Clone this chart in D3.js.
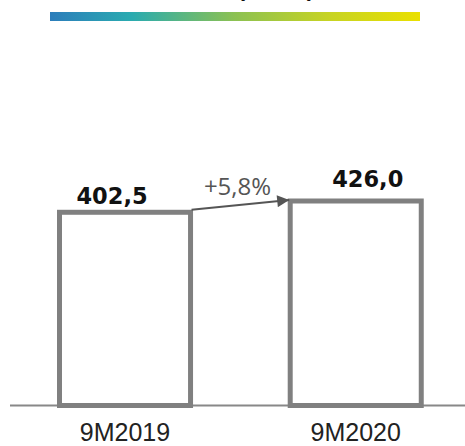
<!DOCTYPE html>
<html><head><meta charset="utf-8">
<script src="https://cdn.jsdelivr.net/npm/d3@7"></script>
<style>html,body{margin:0;padding:0;background:#fff;}</style>
</head><body>
<svg id="chart" width="465" height="446"></svg>
<script>
const categories = ["9M2019", "9M2020"];
const values = [402.5, 426.0];
const valueLabels = ["402,5", "426,0"];
const changeLabel = "+5,8%";
const titleText = "(€ mn)";

const svg = d3.select("#chart");
const defs = svg.append("defs");

// Gradient decoration
const grad = defs.append("linearGradient").attr("id", "hdr").attr("x1", "0%").attr("x2", "100%");
[["0%", "#2c7dbb"], ["22%", "#2aabb0"], ["50%", "#8cc152"], ["75%", "#c6d324"], ["100%", "#eae000"]]
  .forEach(([o, c]) => grad.append("stop").attr("offset", o).attr("stop-color", c));

svg.append("text").attr("x", 237).attr("y", -2)
  .attr("font-family", "DejaVu Sans").attr("font-weight", "bold").attr("font-size", 21)
  .attr("fill", "#111").text(titleText);

svg.append("rect").attr("x", 50).attr("y", 12).attr("width", 370).attr("height", 9)
  .attr("fill", "url(#hdr)");

const x = d3.scaleBand().domain(categories).range([59.5, 421.25]).paddingInner(0.432).paddingOuter(0);
const y = d3.scaleLinear().domain([0, 426]).range([405.5, 201]);

// Baseline
svg.append("line").attr("x1", 10).attr("x2", 465).attr("y1", y(0)).attr("y2", y(0))
  .attr("stroke", "#888").attr("stroke-width", 2);

// Bars
svg.selectAll("rect.bar").data(values).join("rect").attr("class", "bar")
  .attr("x", (d, i) => x(categories[i]))
  .attr("y", d => y(d))
  .attr("width", x.bandwidth())
  .attr("height", d => y(0) - y(d))
  .attr("fill", "#fff").attr("stroke", "#808080").attr("stroke-width", 5);

// Value labels
const labelDx = [-13, 12], labelDy = [-8.5, -14];
svg.selectAll("text.val").data(values).join("text").attr("class", "val")
  .attr("x", (d, i) => x(categories[i]) + x.bandwidth() / 2 + labelDx[i])
  .attr("y", (d, i) => y(d) + labelDy[i])
  .attr("text-anchor", "middle")
  .attr("font-family", "DejaVu Sans").attr("font-weight", "bold").attr("font-size", 22.5)
  .attr("fill", "#111").text((d, i) => valueLabels[i]);

// Arrow
defs.append("marker").attr("id", "arr").attr("viewBox", "0 0 10 10").attr("refX", 10).attr("refY", 5)
  .attr("markerWidth", 14).attr("markerHeight", 12).attr("markerUnits", "userSpaceOnUse")
  .attr("orient", "auto")
  .append("path").attr("d", "M0,0L10,5L0,10Z").attr("fill", "#555");

const ax1 = x(categories[0]) + x.bandwidth() + 1, ay1 = y(values[0]) - 2.5;
const ax2 = x(categories[1]) - 1, ay2 = y(values[1]) - 1;
svg.append("line").attr("x1", ax1).attr("y1", ay1).attr("x2", ax2).attr("y2", ay2)
  .attr("stroke", "#555").attr("stroke-width", 2).attr("marker-end", "url(#arr)");

svg.append("text").attr("x", 237.5).attr("y", 195)
  .attr("text-anchor", "middle")
  .attr("font-family", "Open Sans").attr("font-size", 24).attr("fill", "#555")
  .text(changeLabel);

// Category labels
svg.selectAll("text.cat").data(categories).join("text").attr("class", "cat")
  .attr("x", d => x(d) + x.bandwidth() / 2)
  .attr("y", 441)
  .attr("text-anchor", "middle")
  .attr("font-family", "Liberation Sans").attr("font-size", 25).attr("fill", "#222")
  .text(d => d);
</script>
</body></html>
